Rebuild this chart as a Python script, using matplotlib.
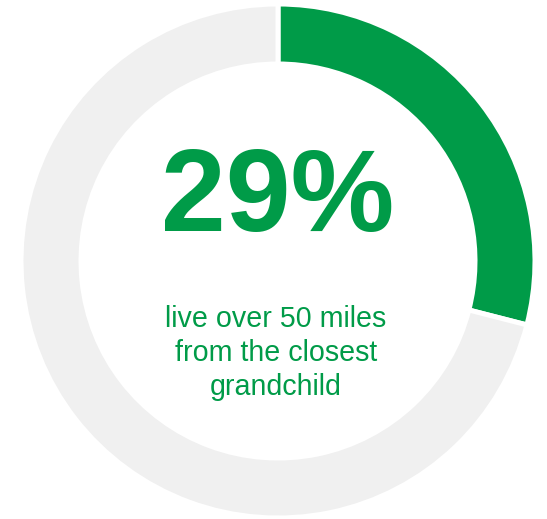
import matplotlib.pyplot as plt

# share of grandparents living far from the nearest grandchild
labels = ['over 50 miles', 'other']
shares = [29, 71]
colors = ['#009B48', '#F0F0F0']
headline = '29%'
caption = 'live over 50 miles\nfrom the closest\ngrandchild'

plt.rcParams['font.family'] = ['Liberation Sans', 'DejaVu Sans']

fig = plt.figure(figsize=(5.47, 5.19), dpi=100)
ax = fig.add_axes([0, 0, 1, 1])

ax.pie(shares, colors=colors, startangle=90, counterclock=False,
       center=(278, 258), radius=257,
       wedgeprops=dict(width=60, edgecolor='white', linewidth=3.6))

# pie() resets the limits, so set the pixel-sized canvas afterwards
ax.set_xlim(0, 547)
ax.set_ylim(0, 519)
ax.set_aspect('equal')
ax.axis('off')

ax.text(277.5, 318, headline, ha='center', va='center',
        fontsize=84, fontweight='bold', color=colors[0])
ax.text(276, 166, caption, ha='center', va='center', fontsize=20.6,
        color=colors[0], linespacing=1.28)

fig.savefig('out.png', dpi=100)
